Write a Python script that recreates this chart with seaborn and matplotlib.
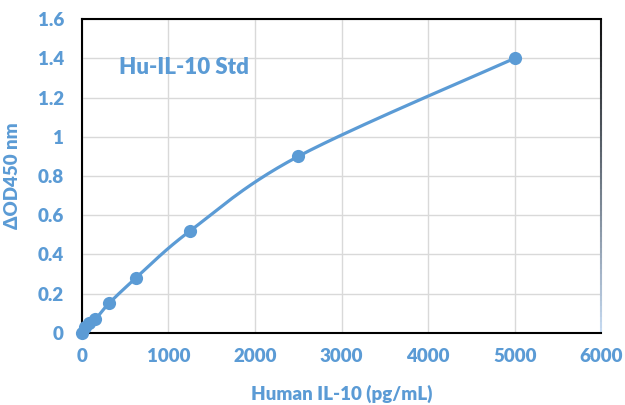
import numpy as np
import pandas as pd
import matplotlib
matplotlib.use('Agg')
import matplotlib.pyplot as plt
import seaborn as sns
from matplotlib.collections import LineCollection

# standard curve data
conc = [0, 39, 78, 156, 312, 625, 1250, 2500, 5000]
od450 = [0.0, 0.03, 0.05, 0.07, 0.15, 0.28, 0.52, 0.90, 1.40]
x_ticks = [0, 1000, 2000, 3000, 4000, 5000, 6000]
y_ticks = [0, 0.2, 0.4, 0.6, 0.8, 1, 1.2, 1.4, 1.6]
y_labels = ['0', '0.2', '0.4', '0.6', '0.8', '1', '1.2', '1.4', '1.6']

blue = '#5B9BD5'

sns.set_style('white')
plt.rcParams['font.family'] = ['Lato', 'DejaVu Sans']

df = pd.DataFrame({'conc': conc, 'od': od450})


# Excel-style smoothed line (Catmull-Rom through the points, in scaled space)
def smooth_line(x, y, xmax=6000.0, ymax=1.6, n=30):
    px = np.array(x, float) / xmax
    py = np.array(y, float) / ymax
    P = np.column_stack([px, py])
    P = np.vstack([P[0], P, P[-1]])
    out = []
    for i in range(1, len(P) - 2):
        p0, p1, p2, p3 = P[i - 1], P[i], P[i + 1], P[i + 2]
        t = np.linspace(0, 1, n)[:, None]
        seg = 0.5 * ((2 * p1) + (-p0 + p2) * t + (2 * p0 - 5 * p1 + 4 * p2 - p3) * t ** 2
                     + (-p0 + 3 * p1 - 3 * p2 + p3) * t ** 3)
        out.append(seg)
    out = np.vstack(out)
    return out[:, 0] * xmax, out[:, 1] * ymax


fig = plt.figure(figsize=(6.25, 4.05), dpi=100)
ax = fig.add_axes([0.131, 0.178, 0.831, 0.775])

sx, sy = smooth_line(conc, od450)
ax.plot(sx, sy, color=blue, linewidth=2.3, solid_capstyle='round')
sns.scatterplot(data=df, x='conc', y='od', ax=ax, color=blue, s=90,
                linewidth=0, zorder=3, clip_on=False)

ax.set_xlim(0, 6000)
ax.set_ylim(0, 1.6)
ax.set_xticks(x_ticks)
ax.set_yticks(y_ticks)
ax.set_yticklabels(y_labels)
ax.set_xlabel('')
ax.grid(True, color='#D9D9D9', linewidth=1)
ax.set_axisbelow(True)
ax.tick_params(axis='y', length=0, labelsize=13.5, labelcolor=blue, pad=13)
ax.tick_params(axis='x', length=0, labelsize=13.5, labelcolor=blue, pad=11)
for lab in ax.get_xticklabels() + ax.get_yticklabels():
    lab.set_fontweight('heavy')

for s in ['top', 'left', 'bottom']:
    ax.spines[s].set_color('black')
    ax.spines[s].set_linewidth(1.5)
ax.spines['right'].set_visible(False)

# right border fades from black to light blue
yy = np.linspace(1, 0, 60)
pts = np.array([[1.0, v] for v in yy])
segs = np.stack([pts[:-1], pts[1:]], axis=1)
fade = matplotlib.colors.LinearSegmentedColormap.from_list('fade', ['#111111', '#C5D9F0'])
lc = LineCollection(segs, colors=fade(np.linspace(0, 1, len(segs))), linewidth=1.5,
                    transform=ax.transAxes, clip_on=False)
ax.add_collection(lc)

ax.set_xlabel('Human IL-10 (pg/mL)', fontsize=13.5, fontweight='heavy', color=blue, labelpad=14)
ax.set_ylabel('ΔOD450 nm', fontsize=13.5, fontweight='heavy', color=blue, labelpad=12)
ax.text(0.071, 0.825, 'Hu-IL-10 Std', transform=ax.transAxes, fontsize=16,
        fontweight='heavy', color=blue)

fig.savefig('out.png', dpi=100)
